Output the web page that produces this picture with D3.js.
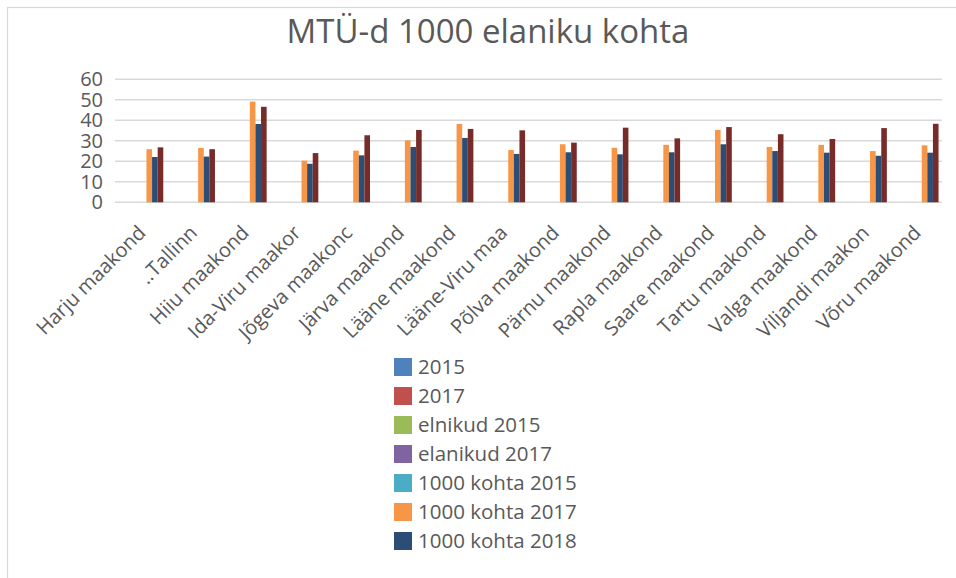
<!DOCTYPE html>
<html>
<head>
<meta charset="utf-8">
<script src="https://cdn.jsdelivr.net/npm/d3@7"></script>
<style>
  body { margin: 0; background: #fff; }
  text { font-family: "Open Sans", sans-serif; fill: #595959; }
</style>
</head>
<body>
<div class="chart"></div>
<script>
// data
const counties = ["Harju maakond", "..Tallinn", "Hiiu maakond", "Ida-Viru maakor", "Jõgeva maakonc",
  "Järva maakond", "Lääne maakond", "Lääne-Viru maa", "Põlva maakond", "Pärnu maakond",
  "Rapla maakond", "Saare maakond", "Tartu maakond", "Valga maakond", "Viljandi maakon", "Võru maakond"];

const seriesNames = ["2015", "2017", "elnikud 2015", "elanikud 2017",
  "1000 kohta 2015", "1000 kohta 2017", "1000 kohta 2018", "1000 kohta 2019"];

const zeros = counties.map(() => 0);
const perThousand2017 = [25.9, 26.5, 49.1, 20.3, 25.2, 30.2, 38.2, 25.5, 28.3, 26.6, 28.0, 35.3, 27.0, 28.0, 25.0, 27.8];
const perThousand2018 = [22.1, 22.3, 38.2, 18.8, 22.9, 27.0, 31.4, 23.6, 24.4, 23.4, 24.4, 28.3, 25.0, 24.2, 22.7, 24.2];
const perThousand2019 = [26.8, 25.9, 46.6, 24.0, 32.7, 35.3, 35.8, 35.1, 29.1, 36.4, 31.2, 36.7, 33.2, 30.9, 36.2, 38.3];

const seriesValues = [zeros, zeros, zeros, zeros, zeros, perThousand2017, perThousand2018, perThousand2019];
const colors = ["#4F81BD", "#C0504D", "#9BBB59", "#8064A2", "#4BACC6", "#F79646", "#2C4D75", "#772C2A"];
const yTicks = [0, 10, 20, 30, 40, 50, 60];
const legendCount = 7; // the last series does not fit in the legend

const width = 956, height = 578;

const svg = d3.select(".chart")
  .append("svg")
  .attr("width", width)
  .attr("height", height);

// chart frame
svg.append("rect")
  .attr("x", 7.5)
  .attr("y", 7.5)
  .attr("width", width)
  .attr("height", height)
  .attr("fill", "none")
  .attr("stroke", "#d9d9d9")
  .attr("stroke-width", 1.2);

svg.append("text")
  .text("MTÜ-d 1000 elaniku kohta")
  .attr("x", 488)
  .attr("y", 43)
  .attr("text-anchor", "middle")
  .style("font-size", "33px");

const xScale = d3.scaleBand()
  .domain(counties)
  .range([115, 942])
  .paddingInner(0.133)
  .paddingOuter(0.067);

const xInner = d3.scaleBand()
  .domain(seriesNames)
  .range([0, xScale.bandwidth()]);

const yScale = d3.scaleLinear()
  .domain([0, 60])
  .range([202.3, 79.3]);

// gridlines
svg.append("g")
  .selectAll("line")
  .data(yTicks)
  .join("line")
  .attr("x1", 115)
  .attr("x2", 942)
  .attr("y1", d => yScale(d))
  .attr("y2", d => yScale(d))
  .attr("stroke", "#d9d9d9")
  .attr("stroke-width", 1.5);

svg.append("g")
  .selectAll("text")
  .data(yTicks)
  .join("text")
  .text(d => d)
  .attr("x", 103)
  .attr("y", d => yScale(d) + 7)
  .attr("text-anchor", "end")
  .style("font-size", "20px");

// bars
const groups = svg.append("g")
  .selectAll("g")
  .data(seriesNames)
  .join("g")
  .attr("fill", (d, i) => colors[i]);

groups.selectAll("rect")
  .data((s, i) => counties.map((c, j) => ({ county: c, series: s, value: seriesValues[i][j] })))
  .join("rect")
  .attr("x", d => xScale(d.county) + xInner(d.series))
  .attr("y", d => yScale(d.value))
  .attr("width", xInner.bandwidth())
  .attr("height", d => yScale(0) - yScale(d.value));

// category labels
svg.append("g")
  .selectAll("text")
  .data(counties)
  .join("text")
  .text(d => d)
  .attr("text-anchor", "end")
  .attr("transform", d => `translate(${xScale(d) + xScale.bandwidth() / 2 + 6},${234}) rotate(-45)`)
  .style("font-size", "20px");

// legend
const legend = svg.append("g")
  .selectAll("g")
  .data(seriesNames.slice(0, legendCount))
  .join("g")
  .attr("transform", (d, i) => `translate(394,${358 + i * 29})`);

legend.append("rect")
  .attr("width", 18)
  .attr("height", 18)
  .attr("fill", (d, i) => colors[i]);

legend.append("text")
  .text(d => d)
  .attr("x", 24)
  .attr("y", 16)
  .style("font-size", "20.5px");
</script>
</body>
</html>
